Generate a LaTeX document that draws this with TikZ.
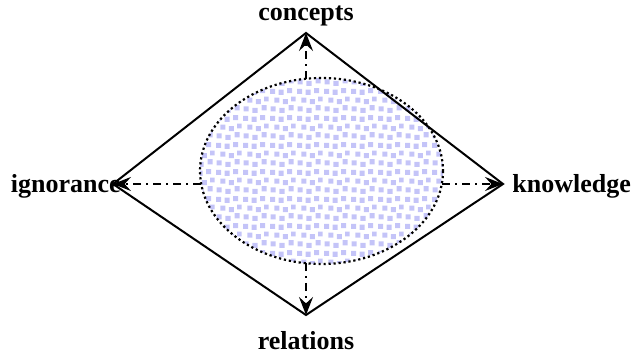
\documentclass[tikz,border=0pt]{standalone}
\usepackage{fontspec}
\setmainfont{Liberation Serif}
\usetikzlibrary{arrows.meta,patterns}
\definecolor{dotblue}{RGB}{196,196,248}
\pgfdeclarepatternformonly{squaredots}{\pgfqpoint{0pt}{0pt}}{\pgfqpoint{13.5pt}{13.5pt}}{\pgfqpoint{13.5pt}{13.5pt}}{%
  \pgfpathrectangle{\pgfqpoint{0.3pt}{0.8pt}}{\pgfqpoint{2.6pt}{2.6pt}}%
  \pgfpathrectangle{\pgfqpoint{4.9pt}{0.1pt}}{\pgfqpoint{2.6pt}{2.6pt}}%
  \pgfpathrectangle{\pgfqpoint{9.6pt}{1.4pt}}{\pgfqpoint{2.6pt}{2.6pt}}%
  \pgfpathrectangle{\pgfqpoint{2.2pt}{5.3pt}}{\pgfqpoint{2.6pt}{2.6pt}}%
  \pgfpathrectangle{\pgfqpoint{6.6pt}{4.6pt}}{\pgfqpoint{2.6pt}{2.6pt}}%
  \pgfpathrectangle{\pgfqpoint{10.9pt}{6.0pt}}{\pgfqpoint{2.4pt}{2.4pt}}%
  \pgfpathrectangle{\pgfqpoint{0.1pt}{9.9pt}}{\pgfqpoint{2.6pt}{2.6pt}}%
  \pgfpathrectangle{\pgfqpoint{4.4pt}{9.4pt}}{\pgfqpoint{2.6pt}{2.6pt}}%
  \pgfpathrectangle{\pgfqpoint{8.8pt}{10.3pt}}{\pgfqpoint{2.6pt}{2.6pt}}%
  \pgfusepath{fill}%
}
\tikzset{
  lbl/.style={font=\fontsize{13}{15}\selectfont\bfseries, inner sep=0pt},
  edge/.style={line width=1pt, line join=miter},
  flow/.style={line width=0.9pt, dash pattern=on 4pt off 2.5pt on 1pt off 2.5pt, -{Stealth[length=9pt,width=7pt,inset=3.2pt]}},
  blob/.style={line width=1.1pt, dash pattern=on 1.1pt off 1.4pt, pattern=squaredots, pattern color=dotblue}
}
\begin{document}
\begin{tikzpicture}[x=0.5pt,y=-0.5pt]
\useasboundingbox (0,0) rectangle (642,356);
\coordinate (T) at (306,33);
\coordinate (L) at (113,184);
\coordinate (B) at (306,315);
\coordinate (R) at (503,184);
\draw[blob] (321.5,171) ellipse [x radius=121.5, y radius=93];
\draw[edge] (T) -- (L) -- (B) -- (R) -- cycle;
\coordinate (et) at (306,79);
\coordinate (eb) at (306,263);
\coordinate (el) at (201,184);
\coordinate (er) at (442,184);
\draw[flow] (et) -- (T);
\draw[flow] (eb) -- (B);
\draw[flow] (el) -- (L);
\draw[flow] (er) -- (R);
\node[lbl, anchor=base] (c) at (306,21) {concepts};
\node[lbl, anchor=base] (r) at (306,350) {relations};
\node[lbl, anchor=base east] (i) at (121,193) {ignorance};
\node[lbl, anchor=base west] (k) at (512,193) {knowledge};
\end{tikzpicture}
\end{document}
